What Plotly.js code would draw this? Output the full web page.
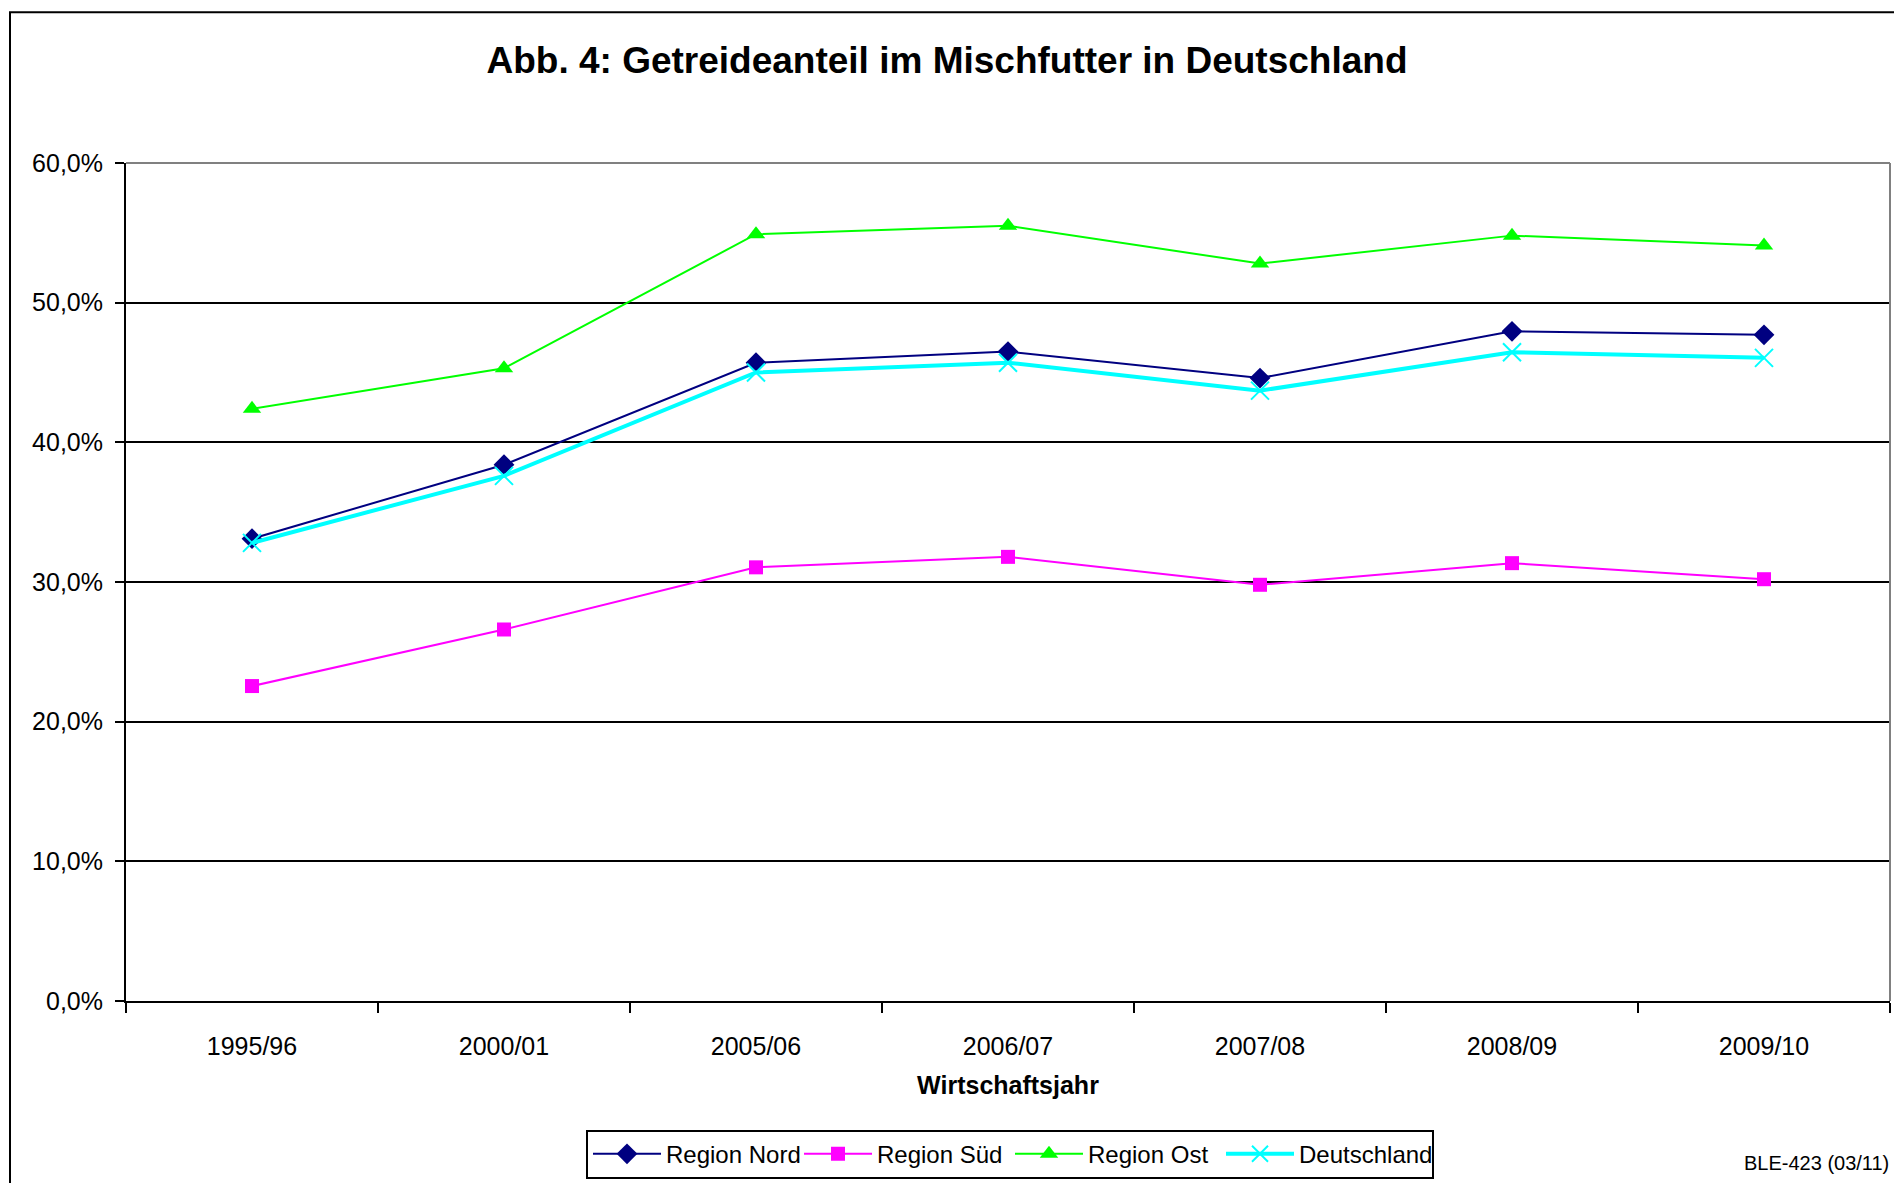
<!DOCTYPE html>
<html>
<head>
<meta charset="utf-8">
<script src="https://cdn.plot.ly/plotly-3.0.1.min.js"></script>
<style>html,body{margin:0;padding:0;background:#fff;}#chart{width:1894px;height:1183px;}</style>
</head>
<body>
<div id="chart"></div>
<script>
// ---- data ----
const categories = ['1995/96', '2000/01', '2005/06', '2006/07', '2007/08', '2008/09', '2009/10'];
const regionNord = [33.1, 38.4, 45.7, 46.5, 44.6, 47.95, 47.7];
const regionSued = [22.55, 26.6, 31.05, 31.8, 29.8, 31.35, 30.2];
const regionOst = [42.4, 45.3, 54.9, 55.5, 52.8, 54.8, 54.1];
const deutschland = [32.8, 37.6, 45.0, 45.7, 43.7, 46.45, 46.05];
const seriesNames = ['Region Nord', 'Region Süd', 'Region Ost', 'Deutschland'];
const yTicks = [0, 10, 20, 30, 40, 50, 60];
const yTickText = yTicks.map(v => v.toFixed(1).replace('.', ',') + '%');

// ---- layout geometry ----
const W = 1894, H = 1183;
const M = {l: 126, r: 4, t: 163, b: 180};
const PW = W - M.l - M.r, PH = H - M.t - M.b;
const px = x => (x - M.l) / PW;
const py = y => (H - M.b - y) / PH;
const FONT = '"Liberation Sans", Arial, Helvetica, sans-serif';

const traces = [
  {x: categories, y: regionNord, name: seriesNames[0], type: 'scatter', mode: 'lines+markers',
   line: {color: '#000080', width: 2}, marker: {symbol: 'diamond', size: 16, color: '#000080'}},
  {x: categories, y: regionSued, name: seriesNames[1], type: 'scatter', mode: 'lines+markers',
   line: {color: '#FF00FF', width: 2}, marker: {symbol: 'square', size: 14, color: '#FF00FF'}},
  {x: categories, y: regionOst, name: seriesNames[2], type: 'scatter', mode: 'lines+markers',
   line: {color: '#00FF00', width: 2}, marker: {symbol: 'triangle-up', size: 16, color: '#00FF00'}},
  {x: categories, y: deutschland, name: seriesNames[3], type: 'scatter', mode: 'lines+markers',
   line: {color: '#00FFFF', width: 4}, marker: {symbol: 'x-thin-open', size: 18, color: '#00FFFF', line: {color: '#00FFFF', width: 2}}}
];

const layout = {
  width: W, height: H,
  margin: M,
  paper_bgcolor: '#ffffff', plot_bgcolor: '#ffffff',
  font: {family: FONT, color: '#000000', size: 24},
  separators: ',.',
  showlegend: true,
  title: {
    text: '<b>Abb. 4: Getreideanteil im Mischfutter in Deutschland</b>',
    font: {family: FONT, size: 37, color: '#000000'},
    xref: 'container', x: 0.5, xanchor: 'center',
    yref: 'container', y: 1 - 60 / H, yanchor: 'middle'
  },
  xaxis: {
    type: 'category', range: [-0.5, categories.length - 0.5],
    tickson: 'boundaries', ticks: 'outside', ticklen: 10, tickwidth: 2, tickcolor: '#000',
    showline: true, linecolor: '#000', linewidth: 2, showgrid: false, zeroline: false,
    tickfont: {family: FONT, size: 25, color: '#000'}, ticklabelstandoff: 22,
    automargin: false,
    title: {text: '<b>Wirtschaftsjahr</b>', font: {family: FONT, size: 25, color: '#000'}, standoff: 17}
  },
  yaxis: {
    range: [0, 60], tickmode: 'array', tickvals: yTicks, ticktext: yTickText,
    ticks: 'outside', ticklen: 9, tickwidth: 2, tickcolor: '#000',
    showline: true, linecolor: '#000', linewidth: 2,
    showgrid: true, gridcolor: '#000', gridwidth: 2, zeroline: false,
    tickfont: {family: FONT, size: 25, color: '#000'}, ticklabelstandoff: 7,
    automargin: false
  },
  legend: {
    orientation: 'h', xref: 'paper', yref: 'paper',
    x: px(1010), xanchor: 'center', y: py(1132), yanchor: 'top',
    bgcolor: '#ffffff', bordercolor: '#000', borderwidth: 2,
    font: {family: FONT, size: 24, color: '#000'},
    entrywidth: 128, entrywidthmode: 'pixels', itemwidth: 68
  },
  shapes: [
    {type: 'rect', xref: 'paper', yref: 'paper', x0: px(10), x1: px(1910), y0: py(12), y1: py(1200),
     line: {color: '#000', width: 2}, fillcolor: 'rgba(0,0,0,0)', layer: 'above'},
    {type: 'line', xref: 'paper', yref: 'paper', x0: 0, x1: 1, y0: 1, y1: 1,
     line: {color: '#808080', width: 2}, layer: 'above'},
    {type: 'line', xref: 'paper', yref: 'paper', x0: 1, x1: 1, y0: 0, y1: 1,
     line: {color: '#808080', width: 2}, layer: 'above'}
  ],
  annotations: [
    {text: 'BLE-423 (03/11)', xref: 'paper', yref: 'paper', x: px(1742), xanchor: 'left',
     y: py(1165), yanchor: 'middle', showarrow: false, font: {family: FONT, size: 20, color: '#000'}}
  ]
};

Plotly.newPlot('chart', traces, layout, {displayModeBar: false, staticPlot: true});
</script>
</body>
</html>
